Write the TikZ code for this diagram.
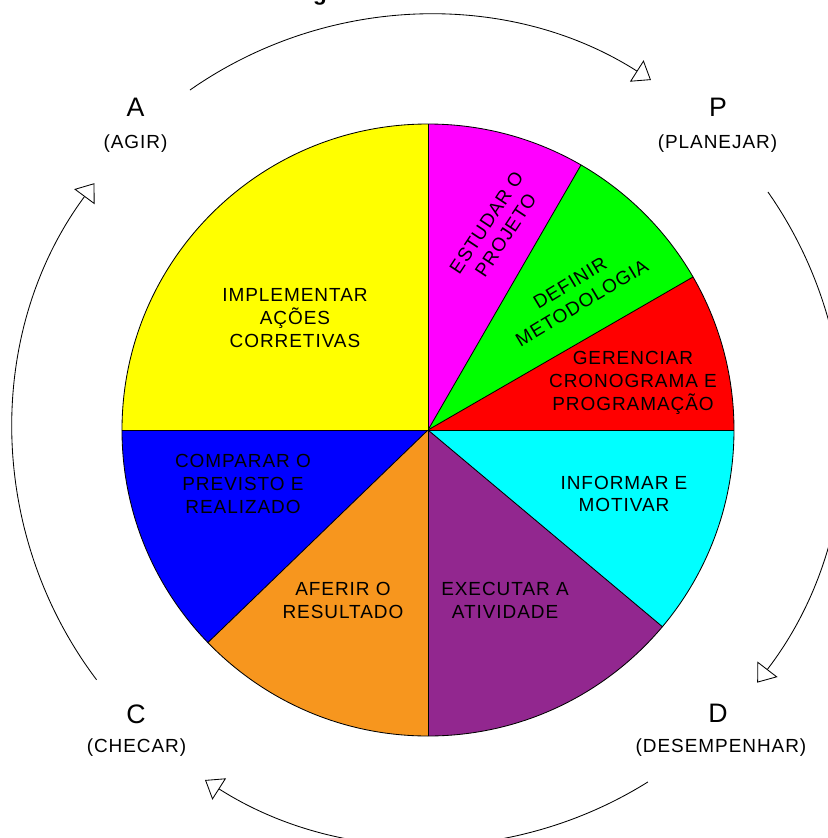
\documentclass[tikz,border=0pt]{standalone}
\usepackage{fontspec}
\setmainfont{Liberation Sans}
\newfontfamily\cadfont[LetterSpace=5]{Liberation Sans}
\usetikzlibrary{arrows.meta}
\definecolor{pdcayellow}{RGB}{255,255,0}
\definecolor{pdcamagenta}{RGB}{255,0,255}
\definecolor{pdcagreen}{RGB}{0,255,0}
\definecolor{pdcared}{RGB}{255,0,0}
\definecolor{pdcacyan}{RGB}{0,255,255}
\definecolor{pdcapurple}{RGB}{146,39,143}
\definecolor{pdcaorange}{RGB}{247,150,30}
\definecolor{pdcablue}{RGB}{0,0,255}
\tikzset{
    sectortext/.style={
        font=\cadfont\fontsize{13.5}{16.3}\selectfont, % 扇区文字
        align=center,  % 居中
        inner sep=0
    },
    phaseletter/.style={
        font=\cadfont\fontsize{19}{22}\selectfont, % 大字母
        inner sep=0
    },
    phasename/.style={
        font=\cadfont\fontsize{13.5}{16}\selectfont,
        inner sep=0
    },
    cyclearrow/.style={
        -{Triangle[open, length=12pt, width=18pt]}, % 空心三角箭头
        line width=0.6pt
    }
}

\begin{document}
\begin{tikzpicture}[x=0.025cm, y=0.025cm]

\def\R{306}
\def\Ro{415}
\useasboundingbox (-428,-408) rectangle (400,430);

% 定义点
\coordinate (O) at (0,0);

% 标题 (被裁掉)
\node[font=\bfseries\fontsize{16}{19}\selectfont, anchor=base, inner sep=0] (titulo) at (-108,430) {g};

% 扇区
\foreach \a/\b/\col in {90/60/pdcamagenta, 60/30/pdcagreen, 30/0/pdcared,
    0/-40/pdcacyan, -40/-90/pdcapurple, -90/-136/pdcaorange,
    -136/-180/pdcablue, -180/-270/pdcayellow}{
  \fill[\col] (O) -- (\a:\R) arc[start angle=\a, end angle=\b, radius=\R] -- cycle;
  \draw[line width=0.6pt] (O) -- (\a:\R);
}
\draw[line width=0.6pt] (O) circle[radius=\R];

\node[sectortext] (implementar) at (-133,112) {IMPLEMENTAR\\AÇÕES\\CORRETIVAS};
\node[sectortext, rotate=56.5] (estudar) at (68,201) {ESTUDAR O\\PROJETO};
\node[sectortext, rotate=31] (definir) at (148,137) {DEFINIR\\METODOLOGIA};
\node[sectortext] (gerenciar) at (205,47) {GERENCIAR\\CRONOGRAMA E\\PROGRAMAÇÃO};
\node[sectortext] (informar) at (196,-64) {INFORMAR E\\MOTIVAR};
\node[sectortext] (executar) at (77,-170) {EXECUTAR A\\ATIVIDADE};
\node[sectortext] (aferir) at (-85,-170) {AFERIR O\\RESULTADO};
\node[sectortext] (comparar) at (-185,-54) {COMPARAR O\\PREVISTO E\\REALIZADO};

% 四个阶段
\node[phaseletter] (A) at (-292.5,322.5) {A};
\node[phasename] (agir) at (-292.5,286) {(AGIR)};
\node[phaseletter] (P) at (290,322.5) {P};
\node[phasename] (planejar) at (289.5,286) {(PLANEJAR)};
\node[phaseletter] (C) at (-292,-284) {C};
\node[phasename] (checar) at (-291.5,-318) {(CHECAR)};
\node[phaseletter] (D) at (290,-283.5) {D};
\node[phasename] (desempenhar) at (293,-318) {(DESEMPENHAR)};

% 外圈箭头
\draw[cyclearrow] (125:\Ro) arc[start angle=125, end angle=57.5, radius=\Ro];
\draw[cyclearrow] (35:\Ro) arc[start angle=35, end angle=-37.5, radius=\Ro];
\draw[cyclearrow] (-58:\Ro) arc[start angle=-58, end angle=-122.5, radius=\Ro];
\draw[cyclearrow] (217:\Ro) arc[start angle=217, end angle=143.5, radius=\Ro];

\end{tikzpicture}
\end{document}
